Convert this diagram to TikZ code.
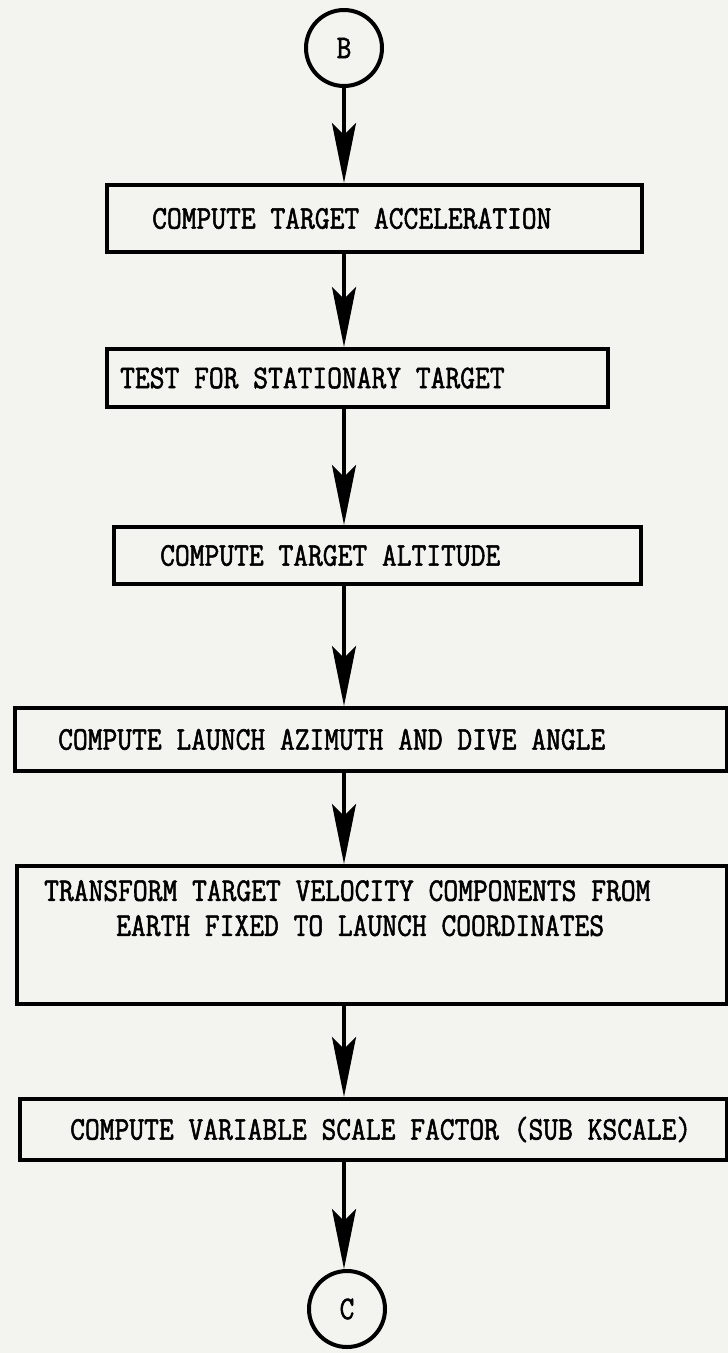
\documentclass[tikz,border=0pt]{standalone}
\usepackage{fontspec}
\usetikzlibrary{arrows.meta}
\newfontfamily\flowfamily[FakeStretch=0.87,FakeBold=1.6]{Latin Modern Mono}
\newcommand{\flowfont}{\flowfamily\fontsize{33}{32}\selectfont}
\definecolor{paper}{RGB}{243,243,240}

\begin{document}
\begin{tikzpicture}
[x=1pt,y=-1pt,
  boxdecorate/.style={shape=rectangle,draw,line width=4pt,anchor=north west,inner sep=0pt},%
  termdecorate/.style={shape=circle,draw,line width=4pt,minimum size=76pt,inner sep=0pt,font=\flowfont},%
  textdecorate/.style={inner sep=0pt,anchor=west,font=\flowfont},%
  linedecorate/.style={-{Stealth[length=60pt,width=24pt,inset=12pt]},line width=4pt}]
\fill[paper] (0,0) rectangle (728,1353);
\useasboundingbox (0,0) rectangle (728,1353);
%% connectors B and C
\node (B) at (344,48) [termdecorate] {B};
\node (C) at (347,1309) [termdecorate] {C};
%% process boxes
\foreach \nodename/\x/\y/\w/\h/\pad/\boxtext in {
  accel/105/183/535/67/47/{COMPUTE TARGET ACCELERATION},
  still/105/347/501/58/15/{TEST FOR STATIONARY TARGET},
  alt/112/525/527/57/48/{COMPUTE TARGET ALTITUDE},
  azim/13/706/712/63/45/{COMPUTE LAUNCH AZIMUTH AND DIVE ANGLE},
  kscale/18/1097/707/61/52/{COMPUTE VARIABLE SCALE FACTOR (SUB KSCALE)}} {
  \node (\nodename) at (\x,\y) [boxdecorate,minimum width=\w pt,minimum height=\h pt,
    label={[textdecorate,xshift=\pad pt]west:\boxtext}] {};
}
\node (xform) at (15,864) [boxdecorate,minimum width=710pt,minimum height=138pt,
  label={[textdecorate,anchor=north west,xshift=29pt,yshift=-16pt]north west:%
    {TRANSFORM TARGET VELOCITY COMPONENTS FROM}},
  label={[textdecorate,anchor=north west,xshift=101pt,yshift=-51pt]north west:%
    {EARTH FIXED TO LAUNCH COORDINATES}}] {};
%% edges or lines
\path
\foreach \startnode/\endnode in {B/accel, accel/still, still/alt, alt/azim,
  azim/xform, xform/kscale, kscale/C} {
  (\startnode.south -| B) edge[linedecorate] (\endnode.north -| B)
};
\end{tikzpicture}
\end{document}
